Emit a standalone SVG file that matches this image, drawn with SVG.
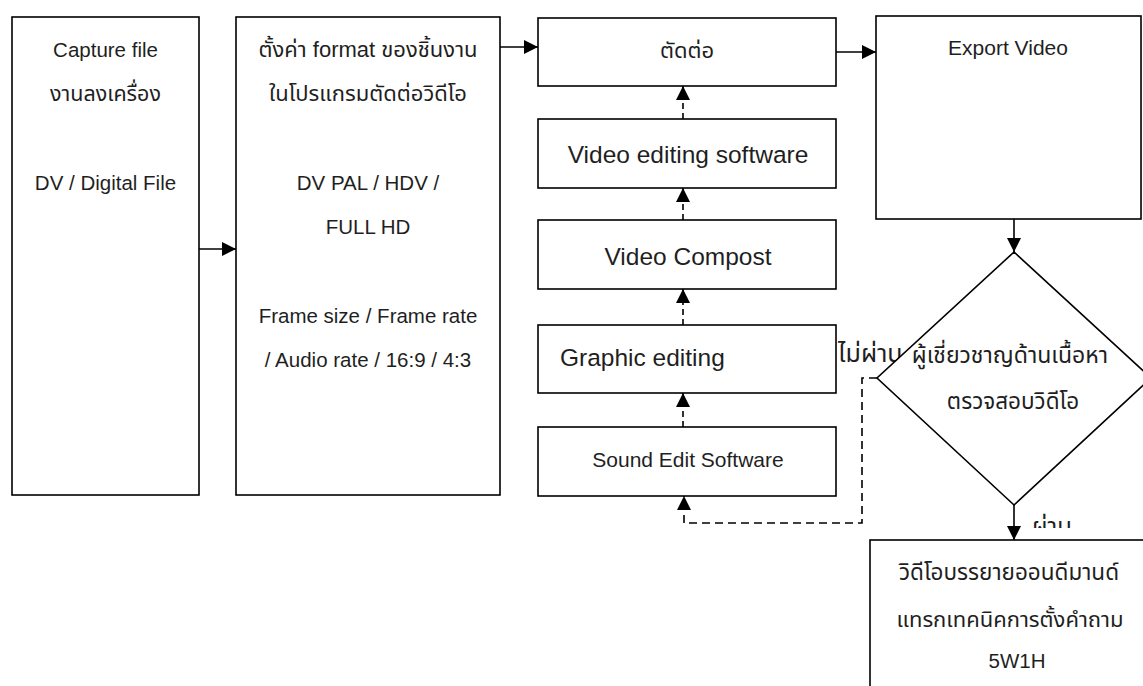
<svg xmlns="http://www.w3.org/2000/svg" width="1143" height="686" viewBox="0 0 1143 686">
  <style>
    .box { fill: #ffffff; stroke: #000000; stroke-width: 1.6; }
    .t { font-family: "Liberation Sans", "Noto Sans Thai", "Loma", "Garuda", sans-serif; fill: #1f1f1f; text-anchor: middle; }
    .s20 { font-size: 20.5px; }
    .s21 { font-size: 21px; }
    .s22 { font-size: 22px; }
    .s23 { font-size: 23px; }
    .s24 { font-size: 24.5px; }
    .edge { fill: none; stroke: #000000; stroke-width: 1.6; }
    .dash { stroke-dasharray: 6 4; }
    .dash2 { stroke-dasharray: 8 5; }
  </style>
  <defs>
    <marker id="arrow" markerUnits="userSpaceOnUse" markerWidth="15" markerHeight="15" refX="14" refY="7" orient="auto">
      <path d="M0,0 L14,7 L0,14 Z" fill="#000000"/>
    </marker>
    <clipPath id="passClip">
      <rect x="1020" y="505" width="80" height="23"/>
    </clipPath>
  </defs>
  <rect width="1143" height="686" fill="#ffffff"/>

  <!-- connectors and their labels -->
  <g id="connectors">
    <line class="edge" x1="199" y1="249" x2="236" y2="249" marker-end="url(#arrow)"/>
    <line class="edge" x1="500" y1="47" x2="538" y2="47" marker-end="url(#arrow)"/>
    <line class="edge" x1="836" y1="52" x2="876" y2="52" marker-end="url(#arrow)"/>
    <line class="edge dash" x1="683" y1="119" x2="683" y2="86" marker-end="url(#arrow)"/>
    <line class="edge dash" x1="683" y1="220" x2="683" y2="188" marker-end="url(#arrow)"/>
    <line class="edge dash" x1="683" y1="325" x2="683" y2="289" marker-end="url(#arrow)"/>
    <line class="edge dash" x1="683" y1="427" x2="683" y2="393" marker-end="url(#arrow)"/>
    <line class="edge" x1="1014" y1="219" x2="1014" y2="252" marker-end="url(#arrow)"/>
    <line class="edge" x1="1014" y1="505" x2="1014" y2="540" marker-end="url(#arrow)"/>
    <path class="edge dash2" d="M877,378 H862 V523 H684 V496" marker-end="url(#arrow)"/>
    <text class="t" x="838" y="362" style="text-anchor:start;font-size:25px">ไม่ผ่าน</text>
    <text class="t" x="1032" y="535" style="text-anchor:start;font-size:24px" clip-path="url(#passClip)">ผ่าน</text>
  </g>

  <g id="capture">
    <rect class="box" x="12" y="17" width="187" height="478"/>
    <text class="t s20" x="105.5" y="57">Capture file</text>
    <text class="t" x="105.5" y="101" style="font-size:21.5px">งานลงเครื่อง</text>
    <text class="t s20" x="105.5" y="190">DV / Digital File</text>
  </g>

  <g id="format">
    <rect class="box" x="236" y="17" width="264" height="478"/>
    <text class="t s22" x="368" y="57">ตั้งค่า format ของชิ้นงาน</text>
    <text class="t s22" x="368" y="101">ในโปรแกรมตัดต่อวิดีโอ</text>
    <text class="t s20" x="368" y="190">DV PAL / HDV /</text>
    <text class="t s20" x="368" y="234">FULL HD</text>
    <text class="t s20" x="368" y="323">Frame size / Frame rate</text>
    <text class="t s20" x="368" y="367">/ Audio rate / 16:9 / 4:3</text>
  </g>

  <g id="cut">
    <rect class="box" x="538" y="18" width="298" height="68"/>
    <text class="t s22" x="687" y="58">ตัดต่อ</text>
  </g>

  <g id="video-editing">
    <rect class="box" x="538" y="119" width="298" height="69"/>
    <text class="t s24" x="688" y="163">Video editing software</text>
  </g>

  <g id="video-compost">
    <rect class="box" x="538" y="220" width="298" height="69"/>
    <text class="t s24" x="688" y="265">Video Compost</text>
  </g>

  <g id="graphic-editing">
    <rect class="box" x="538" y="325" width="298" height="68"/>
    <text class="t s24" x="560" y="366" style="text-anchor:start">Graphic editing</text>
  </g>

  <g id="sound-edit">
    <rect class="box" x="538" y="427" width="298" height="69"/>
    <text class="t s21" x="688" y="467">Sound Edit Software</text>
  </g>

  <g id="export">
    <rect class="box" x="876" y="16" width="265" height="203"/>
    <text class="t s21" x="1008" y="55">Export Video</text>
  </g>

  <g id="review">
    <polygon class="box" points="1014,252 1151,378 1014,505 877,378"/>
    <text class="t s23" x="1010" y="363">ผู้เชี่ยวชาญด้านเนื้อหา</text>
    <text class="t" x="1013" y="409" style="font-size:22.5px">ตรวจสอบวิดีโอ</text>
  </g>

  <g id="result">
    <rect class="box" x="870" y="540" width="300" height="170"/>
    <text class="t" x="1009" y="580" style="font-size:22.5px">วิดีโอบรรยายออนดีมานด์</text>
    <text class="t s22" x="1010" y="627">แทรกเทคนิคการตั้งคำถาม</text>
    <text class="t s20" x="1017" y="668">5W1H</text>
  </g>
</svg>
